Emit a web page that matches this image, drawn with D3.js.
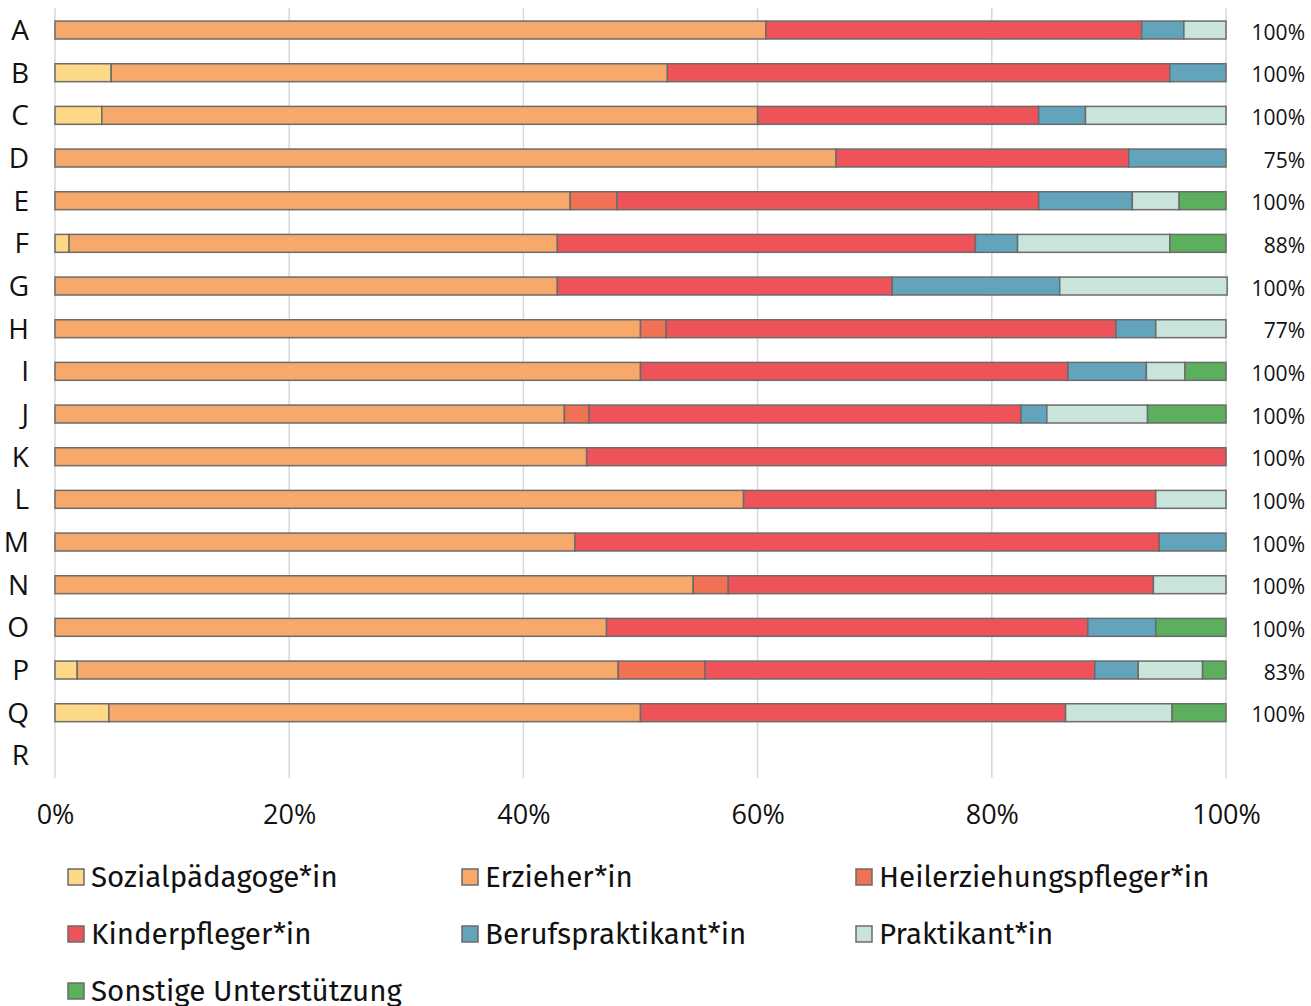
<!DOCTYPE html>
<html>
<head>
<meta charset="utf-8">
<script src="https://cdn.jsdelivr.net/npm/d3@7"></script>
<style>
  body { margin: 0; background: #fff; }
  svg text { font-family: "Open Sans", "Noto Sans", sans-serif; fill: #111; }
  svg .legend-label { font-family: "Fira Sans", Lato, "Noto Sans", sans-serif; }
</style>
</head>
<body>
<div id="chart"></div>
<script>
// categories (rows) and series (stack order)
const categories = ["A","B","C","D","E","F","G","H","I","J","K","L","M","N","O","P","Q","R"];
const seriesNames = ["Sozialpädagoge*in","Erzieher*in","Heilerziehungspfleger*in","Kinderpfleger*in","Berufspraktikant*in","Praktikant*in","Sonstige Unterstützung"];
const seriesColors = ["#fdd886","#f7a96b","#f07153","#ee5359","#63a4bd","#c9e4db","#5caf5d"];

// shares per row in percent
const sozial  = [0, 4.8, 4.0, 0, 0, 1.2, 0, 0, 0, 0, 0, 0, 0, 0, 0, 1.9, 4.6, 0];
const erzieh  = [60.7, 47.5, 56.0, 66.7, 44.0, 41.7, 42.9, 50.0, 50.0, 43.5, 45.4, 58.8, 44.4, 54.5, 47.1, 46.2, 45.4, 0];
const heil    = [0, 0, 0, 0, 4.0, 0, 0, 2.2, 0, 2.1, 0, 0, 0, 3.0, 0, 7.4, 0, 0];
const kinder  = [32.1, 42.9, 24.0, 25.0, 36.0, 35.7, 28.6, 38.4, 36.5, 36.9, 54.6, 35.2, 49.9, 36.3, 41.1, 33.3, 36.3, 0];
const beruf   = [3.6, 4.8, 4.0, 8.3, 8.0, 3.6, 14.3, 3.4, 6.7, 2.2, 0, 0, 5.7, 0, 5.8, 3.7, 0, 0];
const prakt   = [3.6, 0, 12.0, 0, 4.0, 13.0, 14.3, 6.0, 3.3, 8.6, 0, 6.0, 0, 6.2, 0, 5.5, 9.1, 0];
const sonst   = [0, 0, 0, 0, 4.0, 4.8, 0, 0, 3.5, 6.7, 0, 0, 0, 0, 6.0, 2.0, 4.6, 0];

// labels on the right side
const rowLabels = ["100%","100%","100%","75%","100%","88%","100%","77%","100%","100%","100%","100%","100%","100%","100%","83%","100%",""];

const xTicks = [0, 20, 40, 60, 80, 100];

// build table for d3.stack
const seriesValues = [sozial, erzieh, heil, kinder, beruf, prakt, sonst];
const table = categories.map((c, i) => {
    const row = { cat: c };
    seriesNames.forEach((s, j) => { row[s] = seriesValues[j][i]; });
    return row;
});

const svgWidth = 1311,
    svgHeight = 1006;

const x = d3.scaleLinear()
    .domain([0, 100])
    .range([55, 1226]);

const y = d3.scaleBand()
    .domain(categories)
    .range([8.7, 776.7])
    .paddingInner(0.58)
    .paddingOuter(0.29);

const color = d3.scaleOrdinal()
    .domain(seriesNames)
    .range(seriesColors);

const svg = d3.select("#chart")
    .append("svg")
    .attr("width", svgWidth)
    .attr("height", svgHeight);

// gridlines
svg.append("g")
    .selectAll("line")
    .data(xTicks)
    .join("line")
    .attr("x1", d => x(d))
    .attr("x2", d => x(d))
    .attr("y1", 8)
    .attr("y2", 778)
    .attr("stroke", "#d9d9d9")
    .attr("stroke-width", 1.5);

// x axis labels
const xAxis = d3.axisBottom(x)
    .tickValues(xTicks)
    .tickFormat(d => d + "%")
    .tickSize(0)
    .tickPadding(0);

svg.append("g")
    .attr("transform", "translate(0,814)")
    .call(xAxis)
    .call(g => g.select(".domain").remove())
    .selectAll("text")
    .attr("font-size", 27)
    .attr("fill", "#111")
    .attr("dy", "0.36em");

// category labels
const yAxis = d3.axisLeft(y)
    .tickSize(0)
    .tickPadding(0);

svg.append("g")
    .attr("transform", "translate(29,0)")
    .call(yAxis)
    .call(g => g.select(".domain").remove())
    .selectAll("text")
    .attr("font-size", 28)
    .attr("fill", "#111")
    .attr("dy", "0.36em");

// stacked bars
const stacked = d3.stack().keys(seriesNames)(table);

svg.append("g")
    .selectAll("g")
    .data(stacked)
    .join("g")
    .attr("fill", d => color(d.key))
    .selectAll("rect")
    .data(d => d.filter(p => p[1] - p[0] > 0))
    .join("rect")
    .attr("x", d => x(d[0]))
    .attr("y", d => y(d.data.cat))
    .attr("width", d => x(d[1]) - x(d[0]))
    .attr("height", y.bandwidth())
    .attr("stroke", "#6b6b6b")
    .attr("stroke-width", 1.5);

// right side labels
svg.append("g")
    .selectAll("text")
    .data(categories)
    .join("text")
    .attr("x", 1305)
    .attr("y", d => y(d) + y.bandwidth() / 2 + 2)
    .attr("dy", "0.36em")
    .attr("text-anchor", "end")
    .attr("font-size", 21)
    .text((d, i) => rowLabels[i]);

// legend, 3 columns
const legend = svg.append("g")
    .selectAll("g")
    .data(seriesNames)
    .join("g")
    .attr("transform", (d, i) => `translate(${68 + (i % 3) * 394},${877 + Math.floor(i / 3) * 57})`);

legend.append("rect")
    .attr("x", 0)
    .attr("y", -8)
    .attr("width", 16)
    .attr("height", 16)
    .attr("fill", d => color(d))
    .attr("stroke", "#6b6b6b")
    .attr("stroke-width", 1.5);

legend.append("text")
    .attr("class", "legend-label")
    .attr("x", 23)
    .attr("y", 0)
    .attr("dy", "0.35em")
    .attr("font-size", 29.5)
    .text(d => d);
</script>
</body>
</html>
